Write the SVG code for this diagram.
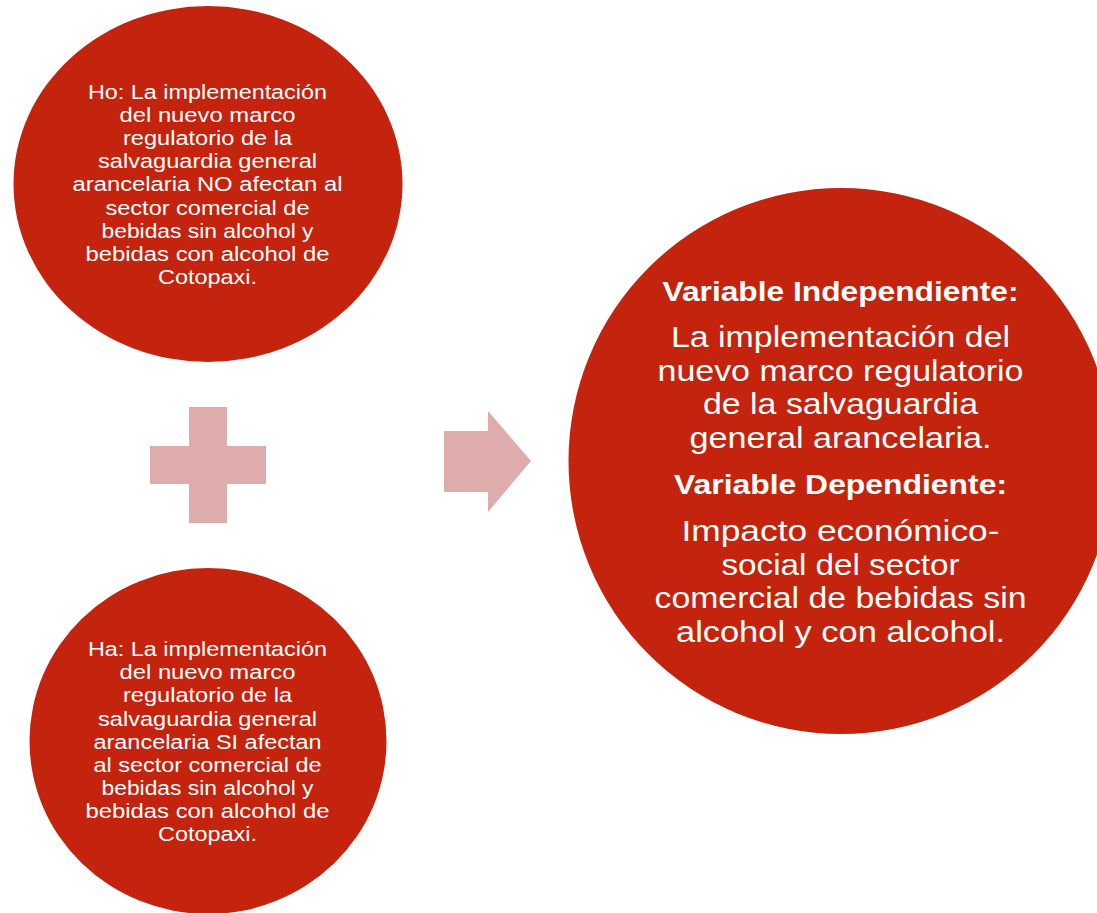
<svg xmlns="http://www.w3.org/2000/svg" width="1097" height="913" viewBox="0 0 1097 913">
<style>
.c{fill:#c4230d}
.s{fill:#dfacac}
text{font-family:"Liberation Sans",Arial,sans-serif;fill:#fff;text-anchor:middle}
.t{font-size:20px}
.b{font-size:29px}
.h{font-size:28.500px;font-weight:700}
</style>
<rect width="1097" height="913" fill="#fff"/>
<g id="node-ho">
<ellipse class="c" cx="208" cy="184" rx="194.500" ry="178"/>
<text class="t" x="207.500" y="99" textLength="239" lengthAdjust="spacingAndGlyphs">Ho: La implementación</text>
<text class="t" x="207.500" y="122" textLength="176" lengthAdjust="spacingAndGlyphs">del nuevo marco</text>
<text class="t" x="207.500" y="145" textLength="169" lengthAdjust="spacingAndGlyphs">regulatorio de la</text>
<text class="t" x="207.500" y="168" textLength="219" lengthAdjust="spacingAndGlyphs">salvaguardia general</text>
<text class="t" x="207.500" y="191" textLength="270" lengthAdjust="spacingAndGlyphs">arancelaria NO afectan al</text>
<text class="t" x="207.500" y="215" textLength="204" lengthAdjust="spacingAndGlyphs">sector comercial de</text>
<text class="t" x="207.500" y="238" textLength="212" lengthAdjust="spacingAndGlyphs">bebidas sin alcohol y</text>
<text class="t" x="207.500" y="261" textLength="244" lengthAdjust="spacingAndGlyphs">bebidas con alcohol de</text>
<text class="t" x="207.500" y="284" textLength="99" lengthAdjust="spacingAndGlyphs">Cotopaxi.</text>
</g>
<g id="node-ha">
<ellipse class="c" cx="208" cy="741" rx="178.500" ry="173"/>
<text class="t" x="207.500" y="656" textLength="239" lengthAdjust="spacingAndGlyphs">Ha: La implementación</text>
<text class="t" x="207.500" y="679" textLength="176" lengthAdjust="spacingAndGlyphs">del nuevo marco</text>
<text class="t" x="207.500" y="702" textLength="169" lengthAdjust="spacingAndGlyphs">regulatorio de la</text>
<text class="t" x="207.500" y="726" textLength="219" lengthAdjust="spacingAndGlyphs">salvaguardia general</text>
<text class="t" x="207.500" y="749" textLength="228" lengthAdjust="spacingAndGlyphs">arancelaria SI afectan</text>
<text class="t" x="207.500" y="772" textLength="228" lengthAdjust="spacingAndGlyphs">al sector comercial de</text>
<text class="t" x="207.500" y="795" textLength="212" lengthAdjust="spacingAndGlyphs">bebidas sin alcohol y</text>
<text class="t" x="207.500" y="818" textLength="244" lengthAdjust="spacingAndGlyphs">bebidas con alcohol de</text>
<text class="t" x="207.500" y="841" textLength="99" lengthAdjust="spacingAndGlyphs">Cotopaxi.</text>
</g>
<g id="node-plus">
<polygon class="s" points="189,407 227,407 227,446 266,446 266,484 227,484 227,523 189,523 189,484 150,484 150,446 189,446"/>
</g>
<g id="connectors">
<polygon class="s" points="444,431 488,431 488,411 531,461 488,512 488,492 444,492"/>
</g>
<g id="node-vars">
<ellipse class="c" cx="841" cy="461" rx="272.500" ry="273"/>
<text class="h" x="840.500" y="301" textLength="356" lengthAdjust="spacingAndGlyphs">Variable Independiente:</text>
<text class="b" x="840.500" y="347" textLength="339" lengthAdjust="spacingAndGlyphs">La implementación del</text>
<text class="b" x="840.500" y="381" textLength="366" lengthAdjust="spacingAndGlyphs">nuevo marco regulatorio</text>
<text class="b" x="840.500" y="414" textLength="275" lengthAdjust="spacingAndGlyphs">de la salvaguardia</text>
<text class="b" x="840.500" y="448" textLength="302" lengthAdjust="spacingAndGlyphs">general arancelaria.</text>
<text class="h" x="840.500" y="494" textLength="333" lengthAdjust="spacingAndGlyphs">Variable Dependiente:</text>
<text class="b" x="840.500" y="541" textLength="318" lengthAdjust="spacingAndGlyphs">Impacto económico-</text>
<text class="b" x="840.500" y="575" textLength="238" lengthAdjust="spacingAndGlyphs">social del sector</text>
<text class="b" x="840.500" y="608" textLength="372" lengthAdjust="spacingAndGlyphs">comercial de bebidas sin</text>
<text class="b" x="840.500" y="642" textLength="329" lengthAdjust="spacingAndGlyphs">alcohol y con alcohol.</text>
</g>
</svg>
